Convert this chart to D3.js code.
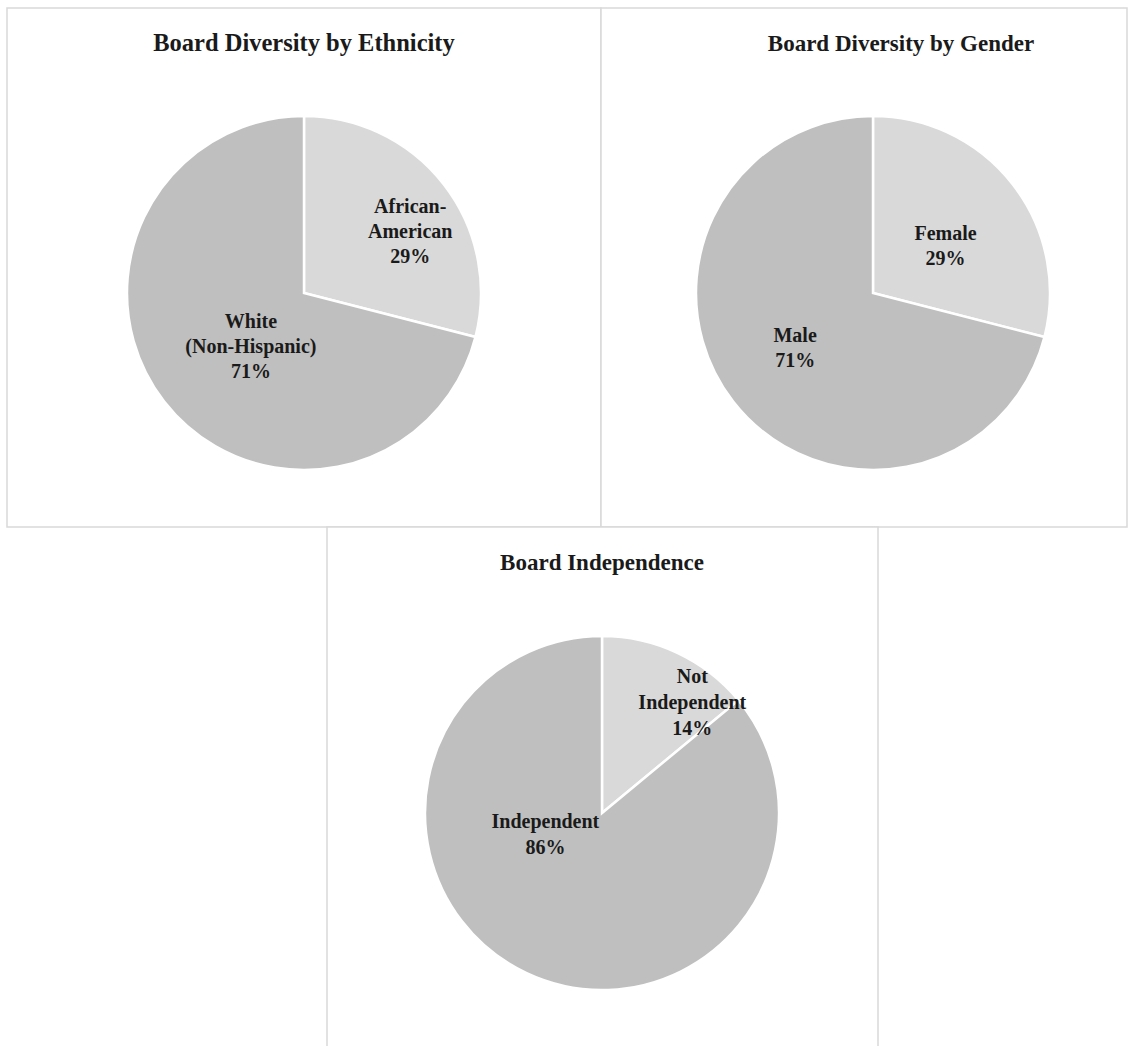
<!DOCTYPE html>
<html>
<head>
	<meta charset="utf-8">
	<title>Board composition pies</title>
	<style>
		body {
			margin: 0;
			background: #fff;
		}
		.panel {
			fill: #fff;
			stroke: #d9d9d9;
			stroke-width: 1.5;
		}
		.slice {
			stroke: #fff;
			stroke-width: 2.5;
		}
		text {
			font-family: "Liberation Serif", "Times New Roman", serif;
			font-weight: bold;
			fill: #1a1a1a;
		}
		.label {
			font-size: 20px;
		}
	</style>
</head>
<body>
	<div id="chart"></div>

	<script src="https://cdnjs.cloudflare.com/ajax/libs/d3/7.8.5/d3.min.js"></script>
	<script>
	// Data
	var titles = ["Board Diversity by Ethnicity", "Board Diversity by Gender", "Board Independence"]
	var ethnicityLabels = [["African-", "American"], ["White", "(Non-Hispanic)"]]
	var ethnicityValues = [29, 71]
	var genderLabels = [["Female"], ["Male"]]
	var genderValues = [29, 71]
	var independenceLabels = [["Not", "Independent"], ["Independent"]]
	var independenceValues = [14, 86]

	// Layout
	var width = 1134,
		height = 1046,
		radius = 177

	var colors = ["#d9d9d9", "#bfbfbf"]

	// panel box, pie centre, title position/size, label offsets (in radii)
	var panels = [
		{ box: [7, 8, 594, 519], cx: 304, cy: 293, tx: 304, ty: 51, ts: 24.5, lh: 25,
			labels: ethnicityLabels, values: ethnicityValues,
			offsets: [[0.6, -0.35], [-0.3, 0.3]] },
		{ box: [601, 8, 526, 519], cx: 873, cy: 293, tx: 901, ty: 51, ts: 23, lh: 25,
			labels: genderLabels, values: genderValues,
			offsets: [[0.41, -0.27], [-0.44, 0.31]] },
		{ box: [327, 527, 551, 530], cx: 602, cy: 813, tx: 602, ty: 570, ts: 23, lh: 26,
			labels: independenceLabels, values: independenceValues,
			offsets: [[0.51, -0.63], [-0.32, 0.12]] }
	]

	var svg = d3.select("#chart").append("svg")
		.attr("width", width)
		.attr("height", height)

	var pie = d3.pie().sort(null)
	var arc = d3.arc().innerRadius(0).outerRadius(radius)

	panels.forEach(function(p, i){
		svg.append("rect")
			.attr("class", "panel")
			.attr("x", p.box[0])
			.attr("y", p.box[1])
			.attr("width", p.box[2])
			.attr("height", p.box[3])

		svg.append("text")
			.attr("class", "title")
			.attr("x", p.tx)
			.attr("y", p.ty)
			.attr("text-anchor", "middle")
			.style("font-size", p.ts + "px")
			.text(titles[i])

		var g = svg.append("g")
			.attr("transform", "translate(" + p.cx + "," + p.cy + ")")

		g.selectAll("path")
			.data(pie(p.values))
			.join("path")
			.attr("class", "slice")
			.attr("d", arc)
			.attr("fill", function(d, j){ return colors[j] })

		// Labels: name lines then percentage
		p.values.forEach(function(v, j){
			var lines = p.labels[j].concat([v + "%"])
			var x = p.offsets[j][0] * radius,
				y = p.offsets[j][1] * radius
			var top = y - (lines.length - 1) * p.lh / 2
			var t = g.append("text")
				.attr("class", "label")
				.attr("text-anchor", "middle")
			lines.forEach(function(line, k){
				t.append("tspan")
					.attr("x", x)
					.attr("y", top + k * p.lh + 7)
					.text(line)
			})
		})
	})
	</script>
</body>
</html>
